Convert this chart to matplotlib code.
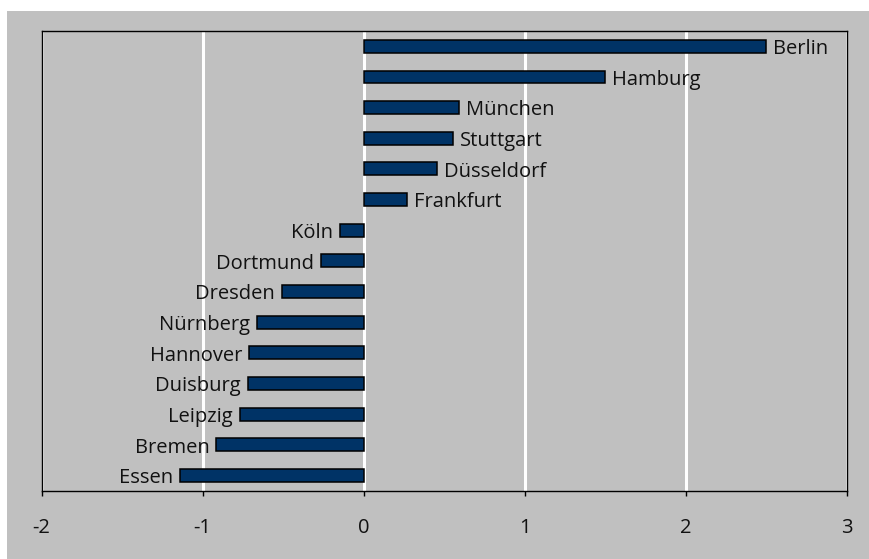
import matplotlib
matplotlib.use("Agg")
import matplotlib.pyplot as plt
from matplotlib.patches import Rectangle

cities = ["Berlin", "Hamburg", "München", "Stuttgart", "Düsseldorf", "Frankfurt",
          "Köln", "Dortmund", "Dresden", "Nürnberg", "Hannover", "Duisburg",
          "Leipzig", "Bremen", "Essen"]
values = [2.50, 1.50, 0.59, 0.555, 0.455, 0.27,
          -0.15, -0.265, -0.51, -0.66, -0.71, -0.72,
          -0.77, -0.915, -1.14]
xticks = [-2, -1, 0, 1, 2, 3]

plt.rcParams['font.family'] = ['Open Sans', 'DejaVu Sans']
FS = 14.5

W, H = 869, 559
fig = plt.figure(figsize=(W / 100, H / 100), dpi=100, facecolor="white")
fig.patches.append(Rectangle((7 / W, 0), 1 - 7 / W, (H - 11) / H,
                             transform=fig.transFigure, facecolor="#C0C0C0",
                             edgecolor="none", zorder=-10))

ax = fig.add_axes([41.5 / W, (H - 490.7) / H, (847 - 41.5) / W, (490.7 - 31) / H])
ax.set_zorder(5)
ax.set_facecolor("#C0C0C0")

n = len(cities)
ypos = list(range(n))[::-1]
ax.barh(ypos, values, height=0.42, color="#003366", edgecolor="black",
        linewidth=1.1, zorder=3)

for y, v, name in zip(ypos, values, cities):
    if v >= 0:
        ax.annotate(name, (v, y), xytext=(5, -2), textcoords="offset points",
                    ha="left", va="center", fontsize=FS, color="#111111", zorder=4)
    else:
        ax.annotate(name, (v, y), xytext=(-5, -2), textcoords="offset points",
                    ha="right", va="center", fontsize=FS, color="#111111", zorder=4)

ax.set_xlim(-2, 3)
ax.set_ylim(-0.5, n - 0.5)
ax.set_xticks(xticks)
ax.set_xticklabels([str(t) for t in xticks], fontsize=FS, color="#111111")
ax.set_yticks([])
ax.tick_params(axis="x", direction="out", length=3.6, width=1, pad=16, color="black")
ax.grid(axis="x", color="white", linewidth=2.2, zorder=1)
ax.set_axisbelow(True)
for s in ax.spines.values():
    s.set_color("black")
    s.set_linewidth(1.0)

fig.savefig("out.png", dpi=100, facecolor=fig.get_facecolor())
